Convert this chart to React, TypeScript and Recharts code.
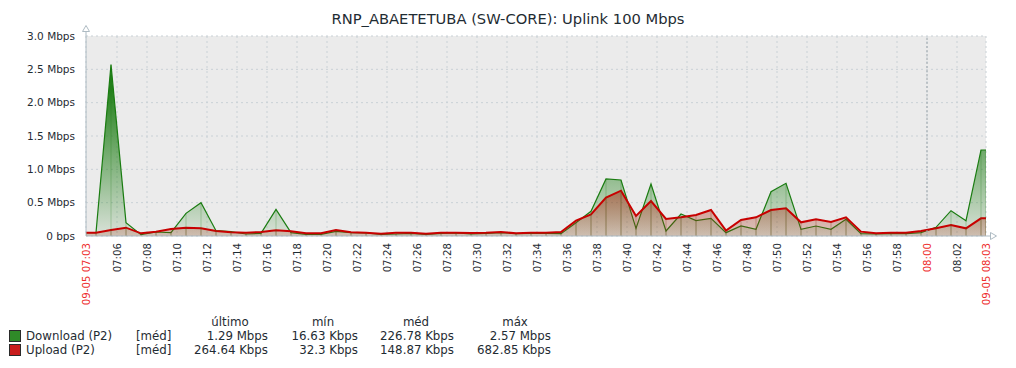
import React from "react";
import { ComposedChart, Area, Bar, XAxis, YAxis, CartesianGrid, ReferenceLine } from "recharts";

const chartTitle = "RNP_ABAETETUBA (SW-CORE): Uplink 100 Mbps";

const times = [
  "07:03:56", "07:04:36", "07:05:36", "07:06:36", "07:07:36", "07:08:36", "07:09:36", "07:10:36",
  "07:11:36", "07:12:36", "07:13:36", "07:14:36", "07:15:36", "07:16:36", "07:17:36", "07:18:36",
  "07:19:36", "07:20:36", "07:21:36", "07:22:36", "07:23:36", "07:24:36", "07:25:36", "07:26:36",
  "07:27:36", "07:28:36", "07:29:36", "07:30:36", "07:31:36", "07:32:36", "07:33:36", "07:34:36",
  "07:35:36", "07:36:36", "07:37:36", "07:38:36", "07:39:36", "07:40:36", "07:41:36", "07:42:36",
  "07:43:36", "07:44:36", "07:45:36", "07:46:36", "07:47:36", "07:48:36", "07:49:36", "07:50:36",
  "07:51:36", "07:52:36", "07:53:36", "07:54:36", "07:55:36", "07:56:36", "07:57:36", "07:58:36",
  "07:59:36", "08:00:36", "08:01:36", "08:02:36", "08:03:36", "08:03:56",
];

// Mbps
const download = [
  0.05, 0.05, 2.57, 0.2, 0.02, 0.06, 0.05, 0.34, 0.5, 0.08,
  0.065, 0.03, 0.04, 0.4, 0.05, 0.025, 0.025, 0.07, 0.05, 0.045,
  0.025, 0.03, 0.04, 0.025, 0.04, 0.045, 0.03, 0.04, 0.05, 0.035,
  0.04, 0.04, 0.035, 0.2, 0.37, 0.855, 0.84, 0.115, 0.78, 0.075,
  0.33, 0.23, 0.265, 0.05, 0.15, 0.1, 0.665, 0.79, 0.1, 0.15,
  0.1, 0.25, 0.035, 0.03, 0.035, 0.035, 0.05, 0.13, 0.38, 0.23,
  1.29, 1.29,
];

const upload = [
  0.05, 0.05, 0.09, 0.125, 0.04, 0.065, 0.105, 0.125, 0.115, 0.075,
  0.055, 0.05, 0.06, 0.085, 0.07, 0.04, 0.04, 0.09, 0.055, 0.05,
  0.032, 0.05, 0.05, 0.032, 0.05, 0.05, 0.045, 0.05, 0.06, 0.04,
  0.05, 0.05, 0.06, 0.23, 0.325, 0.575, 0.68, 0.3, 0.525, 0.255,
  0.28, 0.315, 0.39, 0.08, 0.24, 0.28, 0.39, 0.415, 0.205, 0.25,
  0.21, 0.28, 0.065, 0.04, 0.05, 0.05, 0.075, 0.115, 0.165, 0.115,
  0.265, 0.265,
];

const xTickTimes = [
  "07:03:56", "07:06", "07:08", "07:10", "07:12", "07:14", "07:16", "07:18", "07:20", "07:22",
  "07:24", "07:26", "07:28", "07:30", "07:32", "07:34", "07:36", "07:38", "07:40", "07:42",
  "07:44", "07:46", "07:48", "07:50", "07:52", "07:54", "07:56", "07:58", "08:00", "08:02", "08:03:56",
];
const xTickLabels = [
  "09-05 07:03", "07:06", "07:08", "07:10", "07:12", "07:14", "07:16", "07:18", "07:20", "07:22",
  "07:24", "07:26", "07:28", "07:30", "07:32", "07:34", "07:36", "07:38", "07:40", "07:42",
  "07:44", "07:46", "07:48", "07:50", "07:52", "07:54", "07:56", "07:58", "08:00", "08:02", "09-05 08:03",
];
const redTickLabels = ["09-05 07:03", "08:00", "09-05 08:03"];

const yTicks = [0, 0.5, 1, 1.5, 2, 2.5, 3];
const yTickLabels = ["0 bps", "0.5 Mbps", "1.0 Mbps", "1.5 Mbps", "2.0 Mbps", "2.5 Mbps", "3.0 Mbps"];

const legendHeaders = ["último", "mín", "méd", "máx"];
const legendNames = ["Download (P2)", "Upload (P2)"];
const legendFunc = ["[méd]", "[méd]"];
const downloadStats = ["1.29 Mbps", "16.63 Kbps", "226.78 Kbps", "2.57 Mbps"];
const uploadStats = ["264.64 Kbps", "32.3 Kbps", "148.87 Kbps", "682.85 Kbps"];

const GREEN = "#1a7c11";
const RED = "#c80000";
const TEXT = "#1f2c33";

const toMin = (s: string) => {
  const p = s.split(":").map(Number);
  return (p[0] - 7) * 60 + p[1] + (p[2] || 0) / 60;
};

const data = times.map((t, i) => ({ t: toMin(t), dl: download[i], ul: upload[i] }));
const xTicks = xTickTimes.map(toMin);
const domain: [number, number] = [xTicks[0], xTicks[xTicks.length - 1]];

const XTick = (props: any) => {
  const { x, y, payload } = props;
  const idx = xTicks.findIndex((v) => Math.abs(v - payload.value) < 1e-6);
  const label = idx >= 0 ? xTickLabels[idx] : "";
  const red = redTickLabels.includes(label);
  return (
    <text
      x={x}
      y={y}
      transform={`rotate(-90 ${x} ${y})`}
      textAnchor="end"
      dominantBaseline="central"
      fontSize={10.2}
      fontFamily="DejaVu Sans"
      fill={red ? "#ee2c2c" : TEXT}
    >
      {label}
    </text>
  );
};

const yFmt = (v: number) => {
  const i = yTicks.findIndex((t) => Math.abs(t - v) < 1e-6);
  return i >= 0 ? yTickLabels[i] : "";
};

const AXIS = "#aebbc3";

export default function App() {
  const colX = [268, 358, 454, 551];
  const headX = [230, 323, 416, 515];
  const fs = 11.8;
  return (
    <div style={{ position: "absolute", left: 0, top: 0, width: 1016, height: 368, background: "#fff", fontFamily: "DejaVu Sans", color: TEXT }}>
      <div style={{ position: "absolute", left: 0, width: 1016, top: 10, textAlign: "center", fontSize: 14.7, lineHeight: "18px" }}>
        {chartTitle}
      </div>
      <ComposedChart width={1016} height={368} data={data} margin={{ top: 36, right: 30, bottom: 0, left: 0 }}>
        <defs>
          <linearGradient id="gGreen" gradientUnits="userSpaceOnUse" x1="0" y1="90" x2="0" y2="236">
            <stop offset="0" stopColor={GREEN} stopOpacity={0.95} />
            <stop offset="1" stopColor={GREEN} stopOpacity={0.08} />
          </linearGradient>
          <linearGradient id="gRed" gradientUnits="userSpaceOnUse" x1="0" y1="180" x2="0" y2="236">
            <stop offset="0" stopColor="#b01808" stopOpacity={0.55} />
            <stop offset="1" stopColor="#a03010" stopOpacity={0.2} />
          </linearGradient>
        </defs>
        <CartesianGrid stroke="#c9d1d6" strokeDasharray="2 3" fill="#ebebeb" />
        <XAxis
          dataKey="t"
          type="number"
          domain={domain}
          ticks={xTicks}
          interval={0}
          allowDataOverflow
          height={132}
          tickSize={0}
          tickMargin={7}
          tick={<XTick />}
          axisLine={{ stroke: AXIS }}
        />
        <XAxis xAxisId="s1" dataKey="t" type="number" domain={domain} allowDataOverflow hide />
        <XAxis xAxisId="s2" dataKey="t" type="number" domain={domain} allowDataOverflow hide />
        <YAxis
          type="number"
          domain={[0, 3]}
          ticks={yTicks}
          interval={0}
          width={86}
          tickSize={0}
          tickMargin={11}
          tickFormatter={yFmt}
          tick={{ fontSize: 10.5, fill: TEXT, fontFamily: "DejaVu Sans" }}
          axisLine={{ stroke: AXIS }}
        />
        <ReferenceLine x={60} stroke="#9aa4aa" strokeDasharray="2 2" />
        <Area type="linear" dataKey="dl" stroke={GREEN} strokeWidth={1.2} fill="url(#gGreen)" fillOpacity={1} isAnimationActive={false} dot={false} activeDot={false} />
        <Bar xAxisId="s1" dataKey="dl" barSize={1} fill="rgba(26,124,17,0.25)" isAnimationActive={false} />
        <Area type="linear" dataKey="ul" stroke={RED} strokeWidth={2} fill="url(#gRed)" fillOpacity={1} isAnimationActive={false} dot={false} activeDot={false} />
        <Bar xAxisId="s2" dataKey="ul" barSize={1} fill="rgba(140,60,30,0.35)" isAnimationActive={false} />
      </ComposedChart>
      <svg width={1016} height={368} style={{ position: "absolute", left: 0, top: 0, pointerEvents: "none" }}>
        <line x1={86} y1={31} x2={86} y2={36} stroke={AXIS} />
        <polygon points="82.5,31.5 89.5,31.5 86,25.5" fill="#fff" stroke={AXIS} />
        <line x1={986} y1={236} x2={990} y2={236} stroke={AXIS} />
        <polygon points="990.5,232.5 990.5,239.5 996.5,236" fill="#fff" stroke={AXIS} />
      </svg>
      {legendHeaders.map((h, i) => (
        <div key={h} style={{ position: "absolute", left: headX[i] - 40, width: 80, top: 314, textAlign: "center", fontSize: fs, lineHeight: "16px" }}>
          {h}
        </div>
      ))}
      {[0, 1].map((r) => (
        <React.Fragment key={r}>
          <div style={{ position: "absolute", left: 9, top: 330 + r * 14, width: 10, height: 10, background: r === 0 ? "#2f8a28" : "#c81c1c", border: "1px solid #2a2a2a" }} />
          <div style={{ position: "absolute", left: 26, top: 328 + r * 14, fontSize: fs, lineHeight: "16px", whiteSpace: "nowrap" }}>{legendNames[r]}</div>
          <div style={{ position: "absolute", left: 136, top: 328 + r * 14, fontSize: fs, lineHeight: "16px" }}>{legendFunc[r]}</div>
          {(r === 0 ? downloadStats : uploadStats).map((s, i) => (
            <div key={i} style={{ position: "absolute", left: colX[i] - 120, width: 120, top: 328 + r * 14, textAlign: "right", fontSize: fs, lineHeight: "16px", whiteSpace: "nowrap" }}>
              {s}
            </div>
          ))}
        </React.Fragment>
      ))}
    </div>
  );
}
